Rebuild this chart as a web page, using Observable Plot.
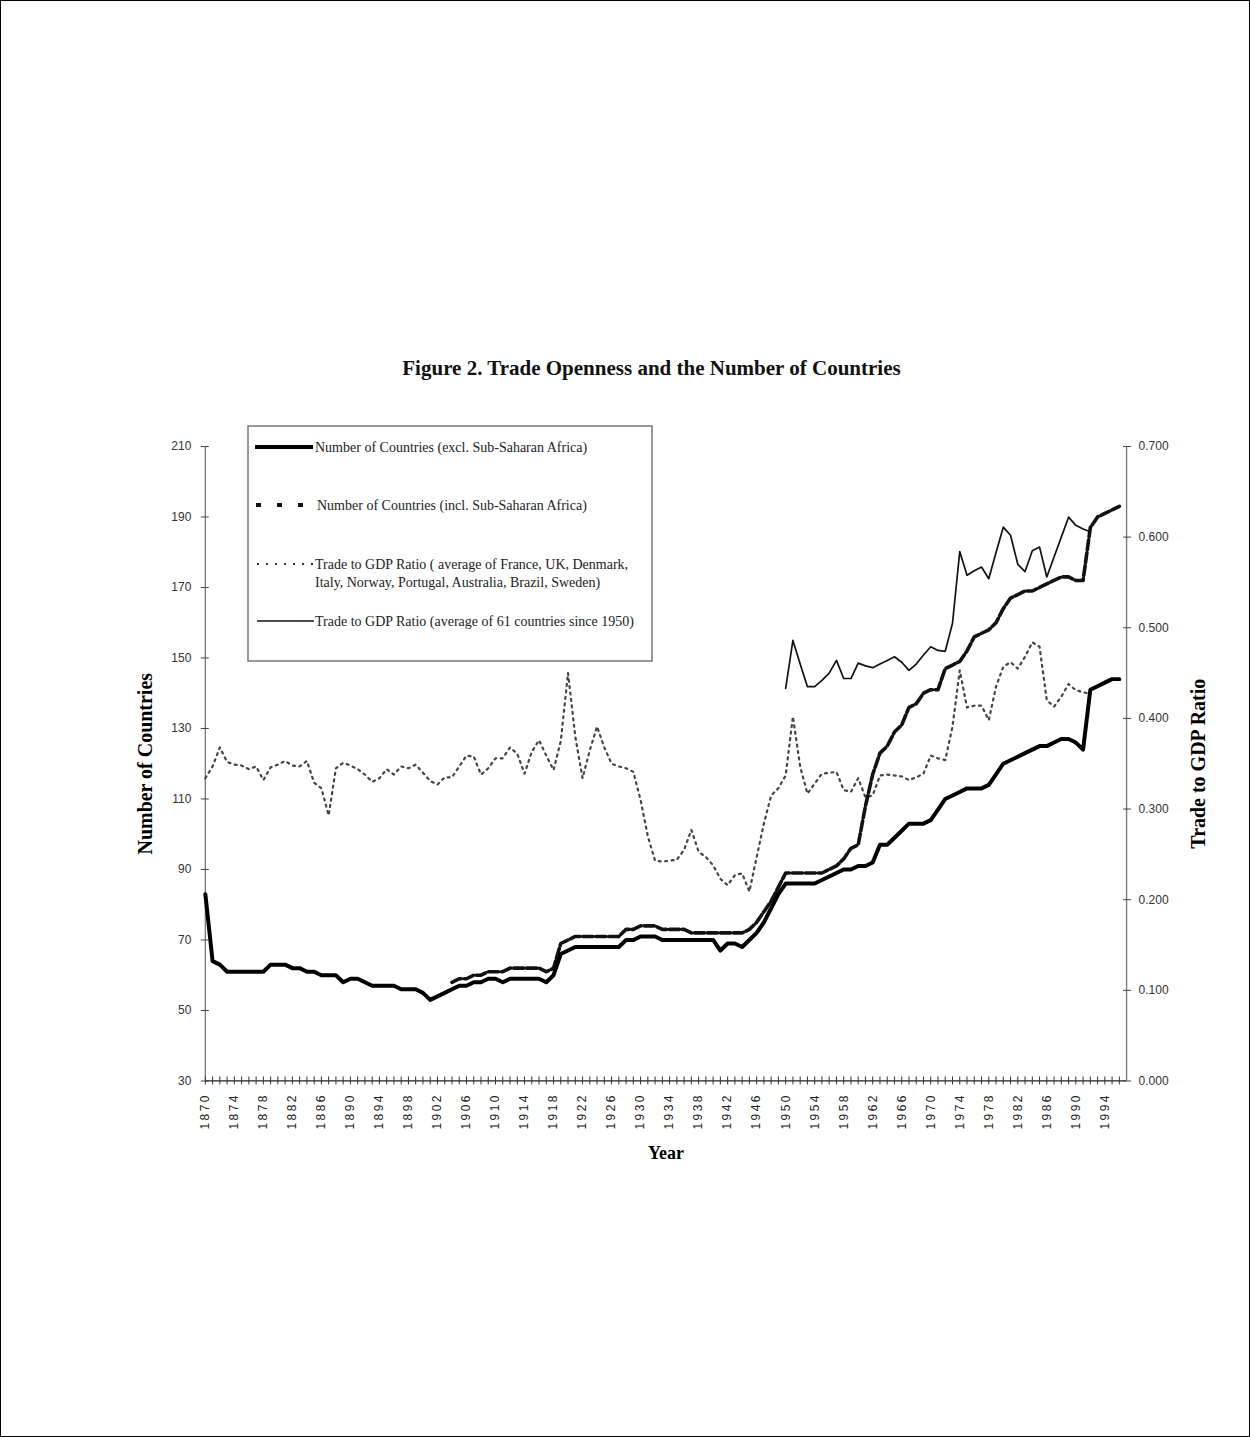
<!DOCTYPE html>
<html>
<head>
<meta charset="utf-8">
<script src="https://cdn.jsdelivr.net/npm/d3@7"></script>
<script src="https://cdn.jsdelivr.net/npm/@observablehq/plot@0.6"></script>
<style>
  html, body { margin: 0; padding: 0; background: #fff; }
  #page { position: relative; width: 1250px; height: 1437px; border: 1px solid #000; box-sizing: border-box; overflow: hidden; background: #fff; }
  #title { position: absolute; left: 0; width: 1301px; top: 355px; text-align: center;
           font: bold 21px "Liberation Serif", "Times New Roman", serif; color: #111; }
  #chart { position: absolute; left: -1px; top: 419px; }
  #legend { position: absolute; left: 246px; top: 424px; }
</style>
</head>
<body>
<div id="page">
  <div id="title">Figure 2. Trade Openness and the Number of Countries</div>
  <div id="chart"></div>
  <div id="legend"></div>
</div>
<script>
// ---------------- DATA ----------------
const years = d3.range(1870, 1997); // categories 1870..1996
const xLabelYears = [1870,1874,1878,1882,1886,1890,1894,1898,1902,1906,1910,1914,1918,1922,1926,1930,1934,1938,1942,1946,1950,1954,1958,1962,1966,1970,1974,1978,1982,1986,1990,1994];
const leftTicks = [30, 50, 70, 90, 110, 130, 150, 170, 190, 210];
const rightTicks = [0, 0.1, 0.2, 0.3, 0.4, 0.5, 0.6, 0.7];
const rightTickLabels = ["0.000","0.100","0.200","0.300","0.400","0.500","0.600","0.700"];

// Number of Countries (excl. Sub-Saharan Africa), 1870-1996
const exclStart = 1870;
const exclSSA = [
  83,64,63,61,61,61,61,61,61,63,
  63,63,62,62,61,61,60,60,60,58,
  59,59,58,57,57,57,57,56,56,56,
  55,53,54,55,56,57,57,58,58,59,
  59,58,59,59,59,59,59,58,60,66,
  67,68,68,68,68,68,68,68,70,70,
  71,71,71,70,70,70,70,70,70,70,
  70,67,69,69,68,70,72,75,79,83,
  86,86,86,86,86,87,88,89,90,90,
  91,91,92,97,97,99,101,103,103,103,
  104,107,110,111,112,113,113,113,114,117,
  120,121,122,123,124,125,125,126,127,127,
  126,124,141,142,143,144,144
];

// Number of Countries (incl. Sub-Saharan Africa), 1904-1996 (same as excl. before)
const inclStart = 1904;
const inclSSA = [
  58,59,59,60,60,61,
  61,61,62,62,62,62,62,61,62,69,
  70,71,71,71,71,71,71,71,73,73,
  74,74,74,73,73,73,73,72,72,72,
  72,72,72,72,72,73,75,78,81,85,
  89,89,89,89,89,89,90,91,93,96,
  97,108,117,123,125,129,131,136,137,140,
  141,141,147,148,149,152,156,157,158,160,
  164,167,168,169,169,170,171,172,173,173,
  172,172,187,190,191,192,193
];

// Trade to GDP ratio, average of 9 countries, 1870-1992
const trade9Start = 1870;
const trade9 = [
  0.334,0.347,0.368,0.352,0.349,0.348,0.344,0.347,0.332,0.346,
  0.349,0.353,0.348,0.347,0.353,0.329,0.323,0.293,0.345,0.351,
  0.348,0.344,0.338,0.330,0.334,0.344,0.338,0.347,0.345,0.349,
  0.340,0.331,0.327,0.335,0.335,0.347,0.359,0.358,0.338,0.345,
  0.356,0.356,0.368,0.361,0.339,0.363,0.376,0.359,0.343,0.375,
  0.450,0.380,0.334,0.365,0.391,0.368,0.350,0.347,0.345,0.341,
  0.310,0.270,0.243,0.242,0.243,0.244,0.255,0.277,0.253,0.247,
  0.238,0.223,0.216,0.227,0.229,0.209,0.247,0.284,0.315,0.323,
  0.337,0.402,0.347,0.317,0.328,0.339,0.340,0.341,0.321,0.319,
  0.334,0.313,0.315,0.337,0.338,0.337,0.336,0.332,0.335,0.339,
  0.359,0.356,0.354,0.391,0.453,0.412,0.414,0.414,0.398,0.435,
  0.457,0.462,0.455,0.468,0.484,0.479,0.420,0.413,0.424,0.438,
  0.431,0.429,0.427
];

// Trade to GDP ratio, average of 61 countries, 1950-1992
const trade61Start = 1950;
const trade61 = [
  0.433,0.486,0.460,0.435,0.435,0.442,0.450,0.464,0.444,0.444,
  0.461,0.458,0.456,0.460,0.464,0.468,0.462,0.453,0.460,0.470,
  0.479,0.475,0.474,0.505,0.584,0.558,0.563,0.567,0.554,0.583,
  0.611,0.602,0.570,0.562,0.585,0.589,0.556,0.578,0.600,0.622,
  0.613,0.609,0.606
];

const legendLabels = [
  ["Number of Countries (excl. Sub-Saharan Africa)"],
  ["Number of Countries (incl. Sub-Saharan Africa)"],
  ["Trade to GDP Ratio ( average of France, UK, Denmark,", "Italy, Norway, Portugal, Australia, Brazil, Sweden)"],
  ["Trade to GDP Ratio (average of 61 countries since 1950)"]
];

// ---------------- CHART ----------------
const leftMin = 30, leftMax = 210, rightMax = 0.7;
const toLeft = r => leftMin + r * (leftMax - leftMin) / rightMax;
const rows = (start, vals) => vals.map((v, i) => ({year: start + i, v}));

const serif = "'Liberation Serif', 'Times New Roman', serif";
const sans = "'Liberation Sans', Arial, sans-serif";

const plot = Plot.plot({
  width: 1250,
  height: 761,
  marginLeft: 205,
  marginRight: 123,
  marginTop: 26,
  marginBottom: 100,
  x: {domain: [1870, 1997]},
  y: {domain: [leftMin, leftMax]},
  style: {background: "transparent", fontFamily: sans, color: "#222", overflow: "visible"},
  marks: [
    Plot.ruleX([1870], {stroke: "#777", strokeWidth: 1.3}),
    Plot.ruleX([1997], {stroke: "#777", strokeWidth: 1.3}),
    Plot.line(rows(trade9Start, trade9), {x: "year", y: d => toLeft(d.v), stroke: "#444", strokeWidth: 2.2, strokeDasharray: "2,4.5"}),
    Plot.line(rows(trade61Start, trade61), {x: "year", y: d => toLeft(d.v), stroke: "#111", strokeWidth: 1.7}),
    Plot.line(rows(inclStart, inclSSA), {x: "year", y: "v", stroke: "#111", strokeWidth: 3.6, strokeDasharray: "10,3"}),
    Plot.line(rows(exclStart, exclSSA), {x: "year", y: "v", stroke: "#000", strokeWidth: 4}),
    Plot.ruleY([leftMin], {stroke: "#222", strokeWidth: 1.3}),
    // x axis: yearly crossing ticks
    Plot.axisX({ticks: years, tickSize: 8, dy: -4, tickFormat: () => "", label: null, stroke: "#333"}),
    // x axis: labels every 4 years
    Plot.axisX({ticks: xLabelYears, tickSize: 0, tickPadding: 12, tickRotate: -90, fontSize: 12, fill: "#222",
                tickFormat: d => String(d),
                label: "Year", labelAnchor: "center", labelOffset: 78, labelArrow: "none"}),
    // left axis
    Plot.axisY({ticks: leftTicks, tickSize: 8, dx: 4, tickFormat: () => "", label: null, stroke: "#444"}),
    Plot.axisY({ticks: leftTicks, tickSize: 0, tickPadding: 14, fontSize: 12, fill: "#333",
                label: "Number of Countries", labelAnchor: "center", labelOffset: 68, labelArrow: "none"}),
    // right axis
    Plot.axisY({anchor: "right", ticks: rightTicks.map(toLeft), tickSize: 8, dx: -4, tickFormat: () => "", label: null, stroke: "#444"}),
    Plot.axisY({anchor: "right", ticks: rightTicks.map(toLeft), tickSize: 0, tickPadding: 12, fontSize: 12, fill: "#333",
                tickFormat: d => rightTickLabels[rightTicks.findIndex(r => Math.abs(toLeft(r) - d) < 1e-6)],
                label: "Trade to GDP Ratio", labelAnchor: "center", labelOffset: 78, labelArrow: "none"})
  ]
});
document.getElementById("chart").appendChild(plot);

const s = d3.select(plot);
s.selectAll('g[aria-label="y-axis label"] text, g[aria-label="x-axis label"] text')
  .attr("font-family", serif).attr("font-weight", "bold").attr("font-size", 20).attr("fill", "#000");
s.selectAll('g[aria-label="x-axis label"] text').attr("font-size", 18);
s.selectAll('g[aria-label="x-axis tick label"] text').style("letter-spacing", "2.5px");

// ---------------- LEGEND ----------------
const lg = d3.select("#legend").append("svg").attr("width", 408).attr("height", 240);
lg.append("rect").attr("x", 1).attr("y", 1).attr("width", 404).attr("height", 235)
  .attr("fill", "#fff").attr("stroke", "#777").attr("stroke-width", 1.5);
const swatches = [
  {y: 22, x1: 8, x2: 66, w: 4, dash: null, color: "#000"},
  {y: 80, x1: 9, x2: 57, w: 4, dash: "5,16", color: "#111"},
  {y: 139, x1: 10, x2: 66, w: 2, dash: "2,7", color: "#333"},
  {y: 196, x1: 10, x2: 67, w: 1.5, dash: null, color: "#111"}
];
swatches.forEach((sw, i) => {
  lg.append("line").attr("x1", sw.x1).attr("x2", sw.x2).attr("y1", sw.y).attr("y2", sw.y)
    .attr("stroke", sw.color).attr("stroke-width", sw.w).attr("stroke-dasharray", sw.dash);
  legendLabels[i].forEach((t, j) => {
    lg.append("text").attr("x", 68 + (i === 1 ? 2 : 0)).attr("y", sw.y + j * 18).attr("dy", "0.35em")
      .attr("font-family", serif).attr("font-size", 14).attr("fill", "#222").text(t);
  });
});
</script>
</body>
</html>
